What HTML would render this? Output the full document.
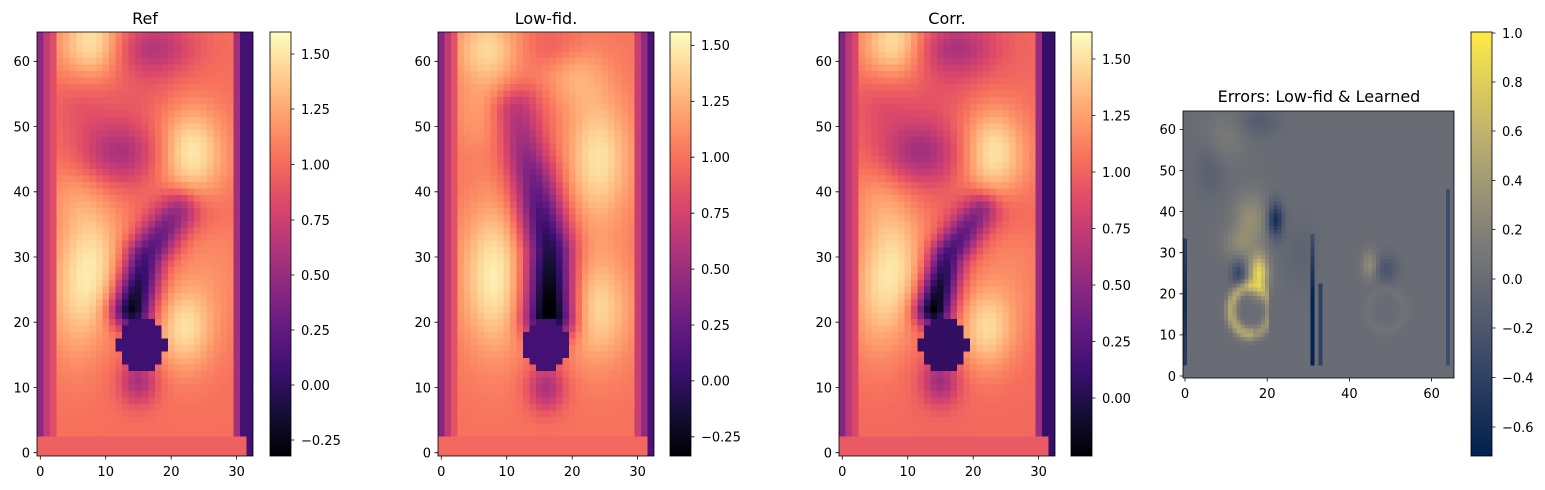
<!DOCTYPE html>
<html><head><meta charset="utf-8">
<style>
body{margin:0;background:#fff;width:1545px;height:490px;overflow:hidden;position:relative;font-family:"DejaVu Sans","Liberation Sans",sans-serif}
canvas{position:absolute;image-rendering:pixelated}
svg{position:absolute;left:0;top:0}
</style></head><body>
<canvas id="c1" width="33" height="65" style="left:37px;top:32px;width:216px;height:424px"></canvas>
<canvas id="c2" width="33" height="65" style="left:438px;top:32px;width:216px;height:424px"></canvas>
<canvas id="c3" width="33" height="65" style="left:839px;top:32px;width:216px;height:424px"></canvas>
<canvas id="c4" width="66" height="65" style="left:1183px;top:111px;width:271px;height:267px"></canvas>
<svg width="1545" height="490" font-size="13" fill="#000">
<defs>
<linearGradient id="mg" x1="0" y1="1" x2="0" y2="0">
<stop offset="0" stop-color="#000004"/><stop offset="0.1" stop-color="#140e36"/><stop offset="0.2" stop-color="#3b0f70"/><stop offset="0.3" stop-color="#641a80"/><stop offset="0.4" stop-color="#8c2981"/><stop offset="0.5" stop-color="#b73779"/><stop offset="0.6" stop-color="#de4968"/><stop offset="0.7" stop-color="#f7705c"/><stop offset="0.8" stop-color="#fe9f6d"/><stop offset="0.9" stop-color="#fecf92"/><stop offset="1" stop-color="#fcfdbf"/>
</linearGradient>
<linearGradient id="cv" x1="0" y1="1" x2="0" y2="0">
<stop offset="0" stop-color="#00204d"/><stop offset="0.25" stop-color="#414d6b"/><stop offset="0.5" stop-color="#7c7b78"/><stop offset="0.75" stop-color="#bcaf6f"/><stop offset="1" stop-color="#ffea46"/>
</linearGradient>
</defs>
<g stroke="#000" stroke-width="0.8">
<rect x="37" y="32" width="216" height="424" fill="none"/>
<rect x="438" y="32" width="216" height="424" fill="none"/>
<rect x="839" y="32" width="216" height="424" fill="none"/>
<rect x="1183" y="111" width="271" height="267" fill="none"/>
<rect x="270" y="32" width="21" height="424" fill="url(#mg)"/>
<rect x="670" y="32" width="21" height="424" fill="url(#mg)"/>
<rect x="1071" y="32" width="21" height="424" fill="url(#mg)"/>
<rect x="1471" y="32" width="21" height="424" fill="url(#cv)"/>
</g>
<g stroke="#000" stroke-width="0.8">
<path d="M40.3 456v3.5M105.7 456v3.5M171.2 456v3.5M236.6 456v3.5M37 452.7h-3.5M37 387.5h-3.5M37 322.2h-3.5M37 257h-3.5M37 191.8h-3.5M37 126.5h-3.5M37 61.3h-3.5"/>
<path d="M441.3 456v3.5M506.7 456v3.5M572.2 456v3.5M637.6 456v3.5M438 452.7h-3.5M438 387.5h-3.5M438 322.2h-3.5M438 257h-3.5M438 191.8h-3.5M438 126.5h-3.5M438 61.3h-3.5"/>
<path d="M842.3 456v3.5M907.7 456v3.5M973.2 456v3.5M1038.6 456v3.5M839 452.7h-3.5M839 387.5h-3.5M839 322.2h-3.5M839 257h-3.5M839 191.8h-3.5M839 126.5h-3.5M839 61.3h-3.5"/>
<path d="M291 54h3.5M291 109h3.5M291 164.5h3.5M291 220h3.5M291 275h3.5M291 330h3.5M291 385h3.5M291 440h3.5"/>
<path d="M691 45.4h3.5M691 101.3h3.5M691 157.2h3.5M691 213.2h3.5M691 269.1h3.5M691 325h3.5M691 380.9h3.5M691 436.8h3.5"/>
<path d="M1092 59h3.5M1092 115.5h3.5M1092 172h3.5M1092 228.5h3.5M1092 285h3.5M1092 341.5h3.5M1092 398h3.5"/>
<path d="M1492 33h3.5M1492 82h3.5M1492 131h3.5M1492 180.5h3.5M1492 229.5h3.5M1492 279h3.5M1492 328h3.5M1492 377.5h3.5M1492 427h3.5"/>
<path d="M1185 378v3.5M1267.2 378v3.5M1349.4 378v3.5M1431.6 378v3.5M1183 376h-3.5M1183 334.9h-3.5M1183 293.8h-3.5M1183 252.7h-3.5M1183 211.6h-3.5M1183 170.5h-3.5M1183 129.4h-3.5"/>
</g>
<g font-size="16" text-anchor="middle">
<text x="145" y="24">Ref</text>
<text x="546" y="24">Low-fid.</text>
<text x="947" y="24">Corr.</text>
<text x="1319" y="102">Errors: Low-fid &amp; Learned</text>
</g>
<g text-anchor="middle">
<text x="40.3" y="476">0</text><text x="105.7" y="476">10</text><text x="171.2" y="476">20</text><text x="236.6" y="476">30</text>
<text x="441.3" y="476">0</text><text x="506.7" y="476">10</text><text x="572.2" y="476">20</text><text x="637.6" y="476">30</text>
<text x="842.3" y="476">0</text><text x="907.7" y="476">10</text><text x="973.2" y="476">20</text><text x="1038.6" y="476">30</text>
<text x="1185" y="398">0</text><text x="1267.2" y="398">20</text><text x="1349.4" y="398">40</text><text x="1431.6" y="398">60</text>
</g>
<g text-anchor="end">
<text x="30" y="457.5">0</text><text x="30" y="392.3">10</text><text x="30" y="327">20</text><text x="30" y="261.8">30</text><text x="30" y="196.6">40</text><text x="30" y="131.3">50</text><text x="30" y="66.1">60</text>
<text x="431" y="457.5">0</text><text x="431" y="392.3">10</text><text x="431" y="327">20</text><text x="431" y="261.8">30</text><text x="431" y="196.6">40</text><text x="431" y="131.3">50</text><text x="431" y="66.1">60</text>
<text x="832" y="457.5">0</text><text x="832" y="392.3">10</text><text x="832" y="327">20</text><text x="832" y="261.8">30</text><text x="832" y="196.6">40</text><text x="832" y="131.3">50</text><text x="832" y="66.1">60</text>
<text x="1176" y="380.8">0</text><text x="1176" y="339.7">10</text><text x="1176" y="298.6">20</text><text x="1176" y="257.5">30</text><text x="1176" y="216.4">40</text><text x="1176" y="175.3">50</text><text x="1176" y="134.2">60</text>
</g>
<g>
<text x="301" y="58.8">1.50</text><text x="301" y="113.8">1.25</text><text x="301" y="169.3">1.00</text><text x="301" y="224.8">0.75</text><text x="301" y="279.8">0.50</text><text x="301" y="334.8">0.25</text><text x="301" y="389.8">0.00</text><text x="301" y="444.8">−0.25</text>
<text x="701" y="50.2">1.50</text><text x="701" y="106.1">1.25</text><text x="701" y="162">1.00</text><text x="701" y="218">0.75</text><text x="701" y="273.9">0.50</text><text x="701" y="329.8">0.25</text><text x="701" y="385.7">0.00</text><text x="701" y="441.6">−0.25</text>
<text x="1102" y="63.8">1.50</text><text x="1102" y="120.3">1.25</text><text x="1102" y="176.8">1.00</text><text x="1102" y="233.3">0.75</text><text x="1102" y="289.8">0.50</text><text x="1102" y="346.3">0.25</text><text x="1102" y="402.8">0.00</text>
<text x="1502" y="37.8">1.0</text><text x="1502" y="86.8">0.8</text><text x="1502" y="135.8">0.6</text><text x="1502" y="185.3">0.4</text><text x="1502" y="234.3">0.2</text><text x="1502" y="283.8">0.0</text><text x="1502" y="332.8">−0.2</text><text x="1502" y="382.3">−0.4</text><text x="1502" y="431.8">−0.6</text>
</g>
</svg>
<script>
function hex(h){return [parseInt(h.substr(1,2),16),parseInt(h.substr(3,2),16),parseInt(h.substr(5,2),16)]}
var MAG=["#000004","#140e36","#3b0f70","#641a80","#8c2981","#b73779","#de4968","#f7705c","#fe9f6d","#fecf92","#fcfdbf"].map(hex);
var CIV=[[0,"#00204d"],[0.25,"#414d6b"],[0.5,"#7c7b78"],[0.75,"#bcaf6f"],[1,"#ffea46"]];
function magma(t){t=Math.max(0,Math.min(1,t))*10;var i=Math.min(9,Math.floor(t)),f=t-i,a=MAG[i],b=MAG[i+1];return [a[0]+(b[0]-a[0])*f,a[1]+(b[1]-a[1])*f,a[2]+(b[2]-a[2])*f]}
function civ(t){t=Math.max(0,Math.min(1,t))*4;var i=Math.min(3,Math.floor(t)),f=t-i,a=hex(CIV[i][1]),b=hex(CIV[i+1][1]);return [a[0]+(b[0]-a[0])*f,a[1]+(b[1]-a[1])*f,a[2]+(b[2]-a[2])*f]}
function g(x,y,cx,cy,sx,sy,a){var dx=(x-cx)/sx,dy=(y-cy)/sy;return a*Math.exp(-0.5*(dx*dx+dy*dy))}
function seg(x,y,pts,th,s0,s1){var best=1e9,bt=0,tot=0,L=[];for(var k=0;k<pts.length-1;k++){var l=Math.hypot(pts[k+1][0]-pts[k][0],pts[k+1][1]-pts[k][1]);L.push(l);tot+=l}
var acc=0;for(k=0;k<pts.length-1;k++){var ax=pts[k][0],ay=pts[k][1],bx=pts[k+1][0],by=pts[k+1][1];var vx=bx-ax,vy=by-ay;var t=((x-ax)*vx+(y-ay)*vy)/(vx*vx+vy*vy);t=Math.max(0,Math.min(1,t));var d=Math.hypot(x-ax-t*vx,y-ay-t*vy);if(d<best){best=d;bt=(acc+t*L[k])/tot}acc+=L[k]}
var s=s0+(s1-s0)*bt;return s*Math.exp(-0.5*(best/th)*(best/th))}
function edges(x,y,v,l0,l1,l2,r2,r1,r0){
 if(y<=2)return (x>=31)?(x==32?r0:0.95):0.95;
 if(x==0)v=l0;if(x==1)v=l1;if(x==2)v=Math.min(v,l2);if(x==30)v=r2;if(x==31)v=r1;if(x==32)v=r0;return v}
function ref(x,y,tw){var v=1.02+g(x,y,8,63,3.5,4,0.5)+g(x,y,8,29,3.5,7,0.42)+g(x,y,5,22,3,7,0.2)+g(x,y,22,19,3,4.5,0.42)+g(x,y,23,46,3.5,5,0.5)+g(x,y,26,28,4,8,0.12)+g(x,y,5,40,3,4,0.12)-g(x,y,12,46,4.5,3.5,0.45)-g(x,y,17,62,4.5,3,0.4)-g(x,y,6,53,3,3,0.1)-g(x,y,23,37,4,3,0.15)-g(x,y,14,55,6,3,0.08);
v-=seg(x,y,[[14,22],[16,30],[21,37]],2.1+tw,1.35,0.5);v-=g(x,y,15,11,2,2.5,0.45);
if(Math.pow((x-15.5)/3.6,2)+Math.pow((y-16.5)/3.9,2)<1)v=0.08;
return edges(x,y,v,0.45,0.7,0.85,0.55,0.1,0.1)}
function low(x,y){var v=1.0+g(x,y,8,27,3.5,8,0.5)+g(x,y,24,22,3.5,6,0.4)+g(x,y,24,45,3.5,7,0.45)+g(x,y,7,52,3.5,4,0.2)+g(x,y,7,62,3.5,4,0.4)+g(x,y,20,59,3.5,4,0.25)-g(x,y,18,62,3.5,2.5,0.2)-g(x,y,12,53,3,3,0.15);
v-=seg(x,y,[[16.5,21],[16.5,31],[14,42],[11,52]],2.5,1.5,0.35);v-=g(x,y,16,10,2,2.5,0.45);
if(Math.pow((x-16)/3.7,2)+Math.pow((y-16.5)/3.8,2)<1)v=0.08;
v=edges(x,y,v,0.4,0.65,0.85,0.6,0.6,0.12);if(x==31&&y>2)v=0.45;if(x==30&&y>2)v=0.7;if(x==31&&y<=2)v=0.95;return v}
function err(x,y){var v=0;
v+=g(x,y,18,25,1.6,3.2,0.85)+g(x,y,16,38,3,4.5,0.3)+g(x,y,13,32,2.5,2.5,0.2)-g(x,y,22,38,1.3,3,0.6)-g(x,y,13,25,1.3,2.2,0.35)+g(x,y,10,58,3.5,4.5,0.12)-g(x,y,18,62,3.5,2.5,0.15)-g(x,y,6,50,2.5,4.5,0.12)-g(x,y,28,30,3,6,0.08);
var r=Math.hypot((x-16)/4.8,(y-16)/5.8);if(x<21)v+=0.5*Math.exp(-Math.pow((r-1)/0.28,2))*(x<17?1:0.7);
v+=g(x,y,45,27,1.3,2.4,0.3)-g(x,y,49,26,2,2.4,0.22)+0.06*Math.exp(-Math.pow((Math.hypot((x-49)/4.5,(y-16)/5)-1)/0.25,2));
if(y>=3&&y<=33&&x==0)v=-0.45-0.15*Math.exp(-Math.pow((y-18)/8,2));
if(y>=3&&y<=34&&x==31)v=-0.7*Math.min(1,(34-y)/25+0.4);
if(y>=3&&y<=22&&x==33)v=-0.4;
if(y>=3&&y<=45&&x==64)v=-0.3;
return v}
function draw(id,w,fn,mn,mx,cm){var c=document.getElementById(id),ctx=c.getContext('2d'),im=ctx.createImageData(w,65);
for(var j=0;j<65;j++)for(var i=0;i<w;i++){var yv=64-j,v=fn(i,yv),col=cm((v-mn)/(mx-mn)),p=(j*w+i)*4;im.data[p]=col[0];im.data[p+1]=col[1];im.data[p+2]=col[2];im.data[p+3]=255}
ctx.putImageData(im,0,0)}
draw('c1',33,function(x,y){return ref(x,y,0)},-0.32,1.6,magma);
draw('c2',33,low,-0.335,1.56,magma);
draw('c3',33,function(x,y){return ref(x,y,-0.2)},-0.257,1.62,magma);
draw('c4',66,err,-0.72,1.0,civ);
</script>
</body></html>
